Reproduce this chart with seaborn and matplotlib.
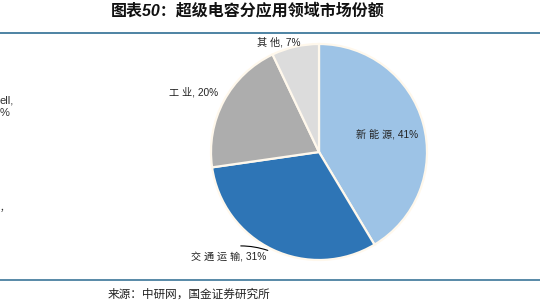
import matplotlib
matplotlib.use("Agg")
import matplotlib.pyplot as plt
import seaborn as sns

sns.set_theme(style="white")
plt.rcParams['font.family'] = ['Liberation Sans', 'Noto Sans CJK SC', 'DejaVu Sans']

categories = ["新 能 源", "交 通 运 输", "工 业", "其 他"]
values = [41, 31, 20, 7]
colors = ["#9DC3E6", "#2E75B6", "#ADADAD", "#DCDCDC"]
title = "图表50：超级电容分应用领域市场份额"
source = "来源：中研网，国金证券研究所"

W, H = 540, 303
fig = plt.figure(figsize=(W / 100, H / 100), dpi=100)

cx, cy, r = 319, 152, 108
ax = fig.add_axes([(cx - r) / W, (H - cy - r) / H, 2 * r / W, 2 * r / H])
wedges, _ = ax.pie(values, colors=colors, startangle=90, counterclock=False,
                   wedgeprops=dict(edgecolor="#FFF8EC", linewidth=1.6))
ax.set_xlim(-1, 1)
ax.set_ylim(-1, 1)
ax.set_aspect("equal")
ax.axis("off")

label_pos = [(0.63, 0.16), (-0.84, -0.98), (-1.16, 0.55), (-0.37, 1.02)]
for cat, v, (x, y) in zip(categories, values, label_pos):
    ax.text(x, y, f"{cat}, {v}%", ha="center", va="center", fontsize=7.3,
            color="#222222", clip_on=False)
ax.annotate("", xy=(-0.45, -0.92), xytext=(-0.75, -0.87),
            arrowprops=dict(arrowstyle="-", color="black", lw=0.8,
                            connectionstyle="arc3,rad=-0.1"))

fig.text(248 / W, 1 - 10 / H, title, ha="center", va="center", fontsize=11.5,
         fontweight="bold", fontstyle="italic", color="#111111")
fig.add_artist(plt.Line2D([0, 1], [1 - 32.5 / H, 1 - 32.5 / H], color="#3F7A9C", lw=1.3))
fig.add_artist(plt.Line2D([0, 1], [1 - 279.5 / H, 1 - 279.5 / H], color="#4A80A0", lw=1.3))
fig.text(108 / W, 1 - 295 / H, source, ha="left", va="center", fontsize=8.4, color="#222222")

fig.text(0, 1 - 101 / H, "ell,", ha="left", va="center", fontsize=8, color="#333333")
fig.text(0, 1 - 113 / H, "%", ha="left", va="center", fontsize=8, color="#333333")
fig.text(0, 1 - 208 / H, "，", ha="left", va="center", fontsize=7, color="#333333")

fig.savefig("out.png", dpi=100)
